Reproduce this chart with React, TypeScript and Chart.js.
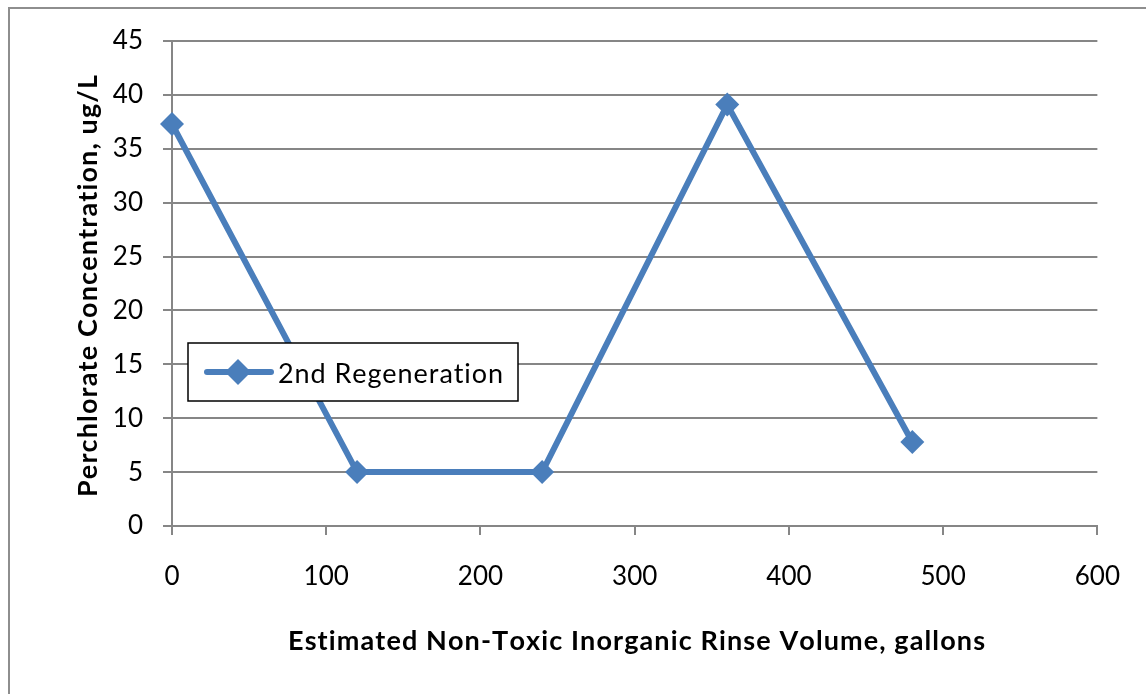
import React, { useEffect, useRef } from "react";
import { Chart, registerables } from "chart.js";

Chart.register(...registerables);

// Rinse volume (gallons) and measured perchlorate concentration (ug/L)
const rinseVolume = [0, 120, 240, 360, 480];
const perchlorate = [37.3, 5, 5, 39.1, 7.8];
const seriesName = "2nd Regeneration";
const xTitle = "Estimated Non-Toxic Inorganic Rinse Volume, gallons";
const yTitle = "Perchlorate Concentration, ug/L";

const LINE_BLUE = "#4A7EBB";
const GRID_GREY = "#868686";
const FONT = "Lato, 'Open Sans', sans-serif";

// Draws text spread out so that it fills the given width
function fillSpread(ctx: any, text: string, x: number, y: number, width: number) {
  const chars = Array.from(text);
  const natural = chars.reduce((s, ch) => s + ctx.measureText(ch).width, 0);
  const gap = (width - natural) / Math.max(1, chars.length - 1);
  let cx = x;
  for (const ch of chars) {
    ctx.fillText(ch, cx, y);
    cx += ctx.measureText(ch).width + gap;
  }
}

// Outer frame, axis titles and the inset legend box
const decorations = {
  id: "decorations",
  beforeDraw(chart: any) {
    const ctx = chart.ctx;
    ctx.save();
    ctx.fillStyle = "#ffffff";
    ctx.fillRect(0, 0, chart.width, chart.height);
    ctx.strokeStyle = "#8e8e8e";
    ctx.lineWidth = 2;
    ctx.strokeRect(9, 8, chart.width + 20, chart.height + 20);
    ctx.restore();
  },
  afterDraw(chart: any) {
    const ctx = chart.ctx;
    ctx.save();
    ctx.fillStyle = "#000";
    ctx.textAlign = "left";
    ctx.textBaseline = "alphabetic";
    ctx.font = `bold 27px ${FONT}`;
    fillSpread(ctx, xTitle, 288, 650, 697);
    ctx.translate(97, 497);
    ctx.rotate(-Math.PI / 2);
    fillSpread(ctx, yTitle, 0, 0, 422);
    ctx.restore();

    // legend inside the plot area
    const bx = 188, by = 343, bw = 330, bh = 58;
    ctx.save();
    ctx.fillStyle = "#fff";
    ctx.fillRect(bx, by, bw, bh);
    ctx.strokeStyle = "#000";
    ctx.lineWidth = 1.5;
    ctx.strokeRect(bx, by, bw, bh);
    const cy = by + bh / 2;
    ctx.strokeStyle = LINE_BLUE;
    ctx.lineWidth = 6;
    ctx.lineCap = "round";
    ctx.beginPath();
    ctx.moveTo(207, cy);
    ctx.lineTo(271, cy);
    ctx.stroke();
    ctx.fillStyle = LINE_BLUE;
    ctx.beginPath();
    ctx.moveTo(238, cy - 13);
    ctx.lineTo(251, cy);
    ctx.lineTo(238, cy + 13);
    ctx.lineTo(225, cy);
    ctx.closePath();
    ctx.fill();
    ctx.fillStyle = "#000";
    ctx.textAlign = "left";
    ctx.textBaseline = "alphabetic";
    ctx.font = `27px ${FONT}`;
    fillSpread(ctx, seriesName, 278, 383, 225);
    ctx.restore();
  },
};

export default function App() {
  const canvasRef = useRef<HTMLCanvasElement | null>(null);

  useEffect(() => {
    const canvas = canvasRef.current;
    if (!canvas) return;
    const chart = new Chart(canvas, {
      type: "line",
      data: {
        datasets: [
          {
            label: seriesName,
            data: rinseVolume.map((x, i) => ({ x, y: perchlorate[i] })),
            borderColor: LINE_BLUE,
            backgroundColor: LINE_BLUE,
            borderWidth: 6,
            pointStyle: "rectRot",
            pointRadius: 12,
            pointBorderWidth: 0,
            pointBackgroundColor: LINE_BLUE,
            tension: 0,
            clip: false,
          },
        ],
      },
      options: {
        animation: false,
        responsive: false,
        layout: { padding: { top: 41, right: 46, left: 0, bottom: 0 } },
        plugins: {
          legend: { display: false },
          tooltip: { enabled: false },
        },
        scales: {
          x: {
            type: "linear",
            min: 0,
            max: 600,
            ticks: {
              stepSize: 100,
              color: "#000",
              font: { family: FONT, size: 26 },
              padding: 26,
              maxRotation: 0,
            },
            grid: {
              drawOnChartArea: false,
              drawTicks: true,
              tickLength: 9,
              color: GRID_GREY,
              lineWidth: 2,
            },
            border: { color: GRID_GREY, width: 2 },
            afterFit(scale: any) {
              scale.height = 168;
            },
          },
          y: {
            min: 0,
            max: 45,
            ticks: {
              stepSize: 5,
              color: "#000",
              font: { family: FONT, size: 26 },
              padding: 20,
            },
            grid: {
              drawTicks: true,
              tickLength: 9,
              color: GRID_GREY,
              lineWidth: 2,
            },
            border: { color: GRID_GREY, width: 2 },
            afterFit(scale: any) {
              scale.width = 172;
            },
          },
        },
      },
      plugins: [decorations],
    });
    return () => chart.destroy();
  }, []);

  return (
    <div style={{ position: "fixed", left: 0, top: 0, width: 1146, height: 694 }}>
      <canvas ref={canvasRef} width={1146} height={694} />
    </div>
  );
}
